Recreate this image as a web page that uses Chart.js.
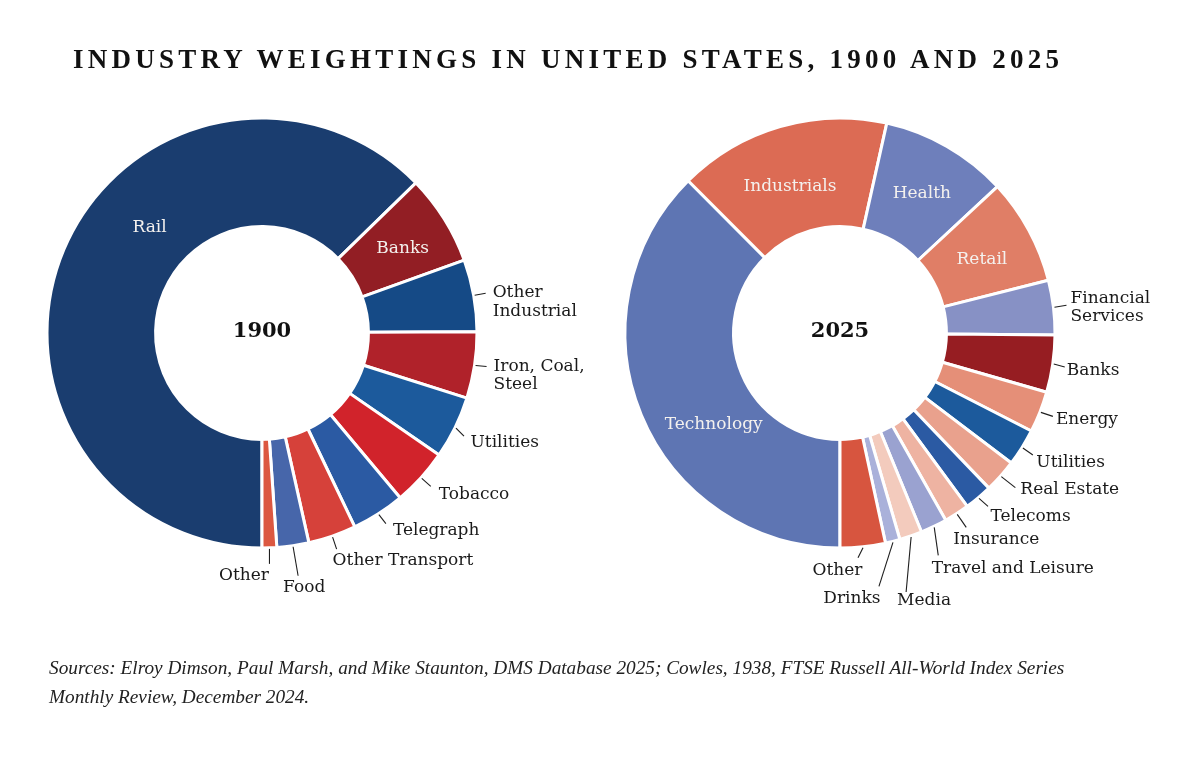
<!DOCTYPE html>
<html>
<head>
<meta charset="utf-8">
<script src="https://cdn.jsdelivr.net/npm/chart.js@4"></script>
<style>
  html, body { margin: 0; padding: 0; background: #fff; }
  #wrap { position: relative; width: 1200px; height: 757px; overflow: hidden; }
  canvas { position: absolute; left: 0; top: 0; }
  #title {
    position: absolute; left: 73px; top: 46px;
    font: bold 27px "Liberation Serif", serif; line-height: 27px;
    white-space: nowrap; color: #111;
  }
  #source {
    position: absolute; left: 49px; top: 654px;
    font-family: "Liberation Serif", serif; font-style: italic;
    line-height: 28.5px; white-space: nowrap; color: #222;
  }
</style>
</head>
<body>
<div id="wrap">
  <canvas id="chart1900" width="1200" height="757"></canvas>
  <canvas id="chart2025" width="1200" height="757"></canvas>
  <div id="title">INDUSTRY WEIGHTINGS IN UNITED STATES, 1900 AND 2025</div>
  <div id="source"><span id="src1">Sources: Elroy Dimson, Paul Marsh, and Mike Staunton, DMS Database 2025; Cowles, 1938, FTSE Russell All-World Index Series</span><br>Monthly Review, December 2024.</div>
</div>
<script>
// 1900 weights (%)
const labels1900 = ['Rail', 'Banks', 'Other Industrial', 'Iron, Coal, Steel', 'Utilities', 'Tobacco', 'Telegraph', 'Other Transport', 'Food', 'Other'];
const values1900 = [62.7, 6.8, 5.4, 5.0, 4.7, 4.3, 4.0, 3.6, 2.4, 1.1];
const colors1900 = ['#1a3d6f', '#921e24', '#154a86', '#b0222a', '#1c5a9c', '#d1232b', '#2b5aa3', '#d6413a', '#4766aa', '#dc5841'];

// 2025 weights (%)
const labels2025 = ['Technology', 'Industrials', 'Health', 'Retail', 'Financial Services', 'Banks', 'Energy', 'Utilities', 'Real Estate', 'Telecoms', 'Insurance', 'Travel and Leisure', 'Media', 'Drinks', 'Other'];
const values2025 = [37.6, 16.0, 9.6, 8.0, 4.1, 4.3, 3.1, 2.8, 2.5, 2.1, 1.9, 2.0, 1.7, 1.1, 3.4];
const colors2025 = ['#5e75b3', '#dc6b54', '#6e7fbb', '#e07e66', '#8791c5', '#961d22', '#e58f78', '#1c5a9c', '#e9a18d', '#2b5aa3', '#eeb3a2', '#9aa2d0', '#f3cbbd', '#aab1da', '#d7553f'];

// label placement: inside = [fraction along arc, fraction across ring]
// outside: leader = end offset from ring edge, text = offset from leader end
const place1900 = {
    'Rail': { inside: [0.592, 0.45] },
    'Banks': { inside: [0.52, 0.54] },
    'Other Industrial': { lines: ['Other', 'Industrial'], leader: [11, -2], text: [7, 4.3] },
    'Iron, Coal, Steel': { lines: ['Iron, Coal,', 'Steel'], leader: [11, 1], text: [7, 4.3] },
    'Utilities': { leader: [8, 8], text: [6.5, 11] },
    'Tobacco': { leader: [9, 8], text: [8, 12.5] },
    'Telegraph': { leader: [7, 9], text: [7, 11.5] },
    'Other Transport': { leader: [4, 12], text: [-4, 16] },
    'Food': { leader: [5, 29], text: [-15, 16] },
    'Other': { leader: [0, 15], text: [-0.5, 16], align: 'right' }
};

const place2025 = {
    'Technology': { inside: [0.403, 0.45] },
    'Industrials': { inside: [0.457, 0.46] },
    'Health': { inside: [0.51, 0.52] },
    'Retail': { inside: [0.52, 0.50] },
    'Financial Services': { lines: ['Financial', 'Services'], leader: [12, -2], text: [4, -2.3] },
    'Banks': { leader: [11, 3], text: [2, 8] },
    'Energy': { leader: [12, 4], text: [3, 7.5] },
    'Utilities': { leader: [10, 7], text: [3.5, 12] },
    'Real Estate': { leader: [14, 11], text: [5, 6.5] },
    'Telecoms': { leader: [9, 8], text: [2.5, 14.5] },
    'Insurance': { leader: [9, 13], text: [-13, 16.5] },
    'Travel and Leisure': { leader: [4, 28], text: [-6.5, 17.5] },
    'Media': { leader: [-5, 55], text: [-9, 13] },
    'Drinks': { leader: [-14, 44], text: [1.5, 17], align: 'right' },
    'Other': { leader: [-5, 10], text: [4.5, 17], align: 'right' }
};

// Draws slice labels, leader lines and the year in the hole
const sliceLabels = {
    id: 'sliceLabels',
    afterDatasetsDraw(chart, args, opts) {
        const ctx = chart.ctx;
        const meta = chart.getDatasetMeta(0);
        let cx = 0, cy = 0;
        ctx.save();
        ctx.font = '17px "DejaVu Serif"';
        ctx.textBaseline = 'alphabetic';
        meta.data.forEach((arc, i) => {
            const p = arc.getProps(['x', 'y', 'startAngle', 'endAngle', 'innerRadius', 'outerRadius'], true);
            cx = p.x; cy = p.y;
            const name = chart.data.labels[i];
            const cfg = opts.place[name];
            if (!cfg) return;
            if (cfg.inside) {
                const a = p.startAngle + cfg.inside[0] * (p.endAngle - p.startAngle);
                const r = p.innerRadius + cfg.inside[1] * (p.outerRadius - p.innerRadius);
                ctx.fillStyle = '#f4f1ee';
                ctx.textAlign = 'center';
                ctx.fillText(name, p.x + Math.cos(a) * r, p.y + Math.sin(a) * r + 6);
                return;
            }
            const mid = (p.startAngle + p.endAngle) / 2;
            const sx = p.x + Math.cos(mid) * (p.outerRadius + 1);
            const sy = p.y + Math.sin(mid) * (p.outerRadius + 1);
            const ex = sx + cfg.leader[0];
            const ey = sy + cfg.leader[1];
            ctx.strokeStyle = '#1e1e1e';
            ctx.lineWidth = 1.1;
            ctx.beginPath();
            ctx.moveTo(sx, sy);
            ctx.lineTo(ex, ey);
            ctx.stroke();
            ctx.fillStyle = '#1a1a1a';
            ctx.textAlign = cfg.align || 'left';
            const lines = cfg.lines || [name];
            lines.forEach((ln, k) => {
                ctx.fillText(ln, ex + cfg.text[0], ey + cfg.text[1] + k * 18.3);
            });
        });
        ctx.font = 'bold 21px "DejaVu Serif"';
        ctx.textAlign = 'center';
        ctx.fillStyle = '#111';
        ctx.fillText(opts.center, cx, cy + 4);
        ctx.restore();
    }
};

function makeDoughnut(id, labels, values, colors, place, center, padding) {
    return new Chart(document.getElementById(id), {
        type: 'doughnut',
        data: {
            labels: labels,
            datasets: [{
                data: values,
                backgroundColor: colors,
                borderColor: '#ffffff',
                borderWidth: 3,
                hoverOffset: 0
            }]
        },
        options: {
            responsive: false,
            animation: false,
            rotation: 180,
            radius: 215,
            cutout: '49.5%',
            events: [],
            layout: { padding: padding },
            plugins: {
                legend: { display: false },
                tooltip: { enabled: false },
                sliceLabels: { place: place, center: center }
            }
        },
        plugins: [sliceLabels]
    });
}

makeDoughnut('chart1900', labels1900, values1900, colors1900, place1900, '1900', { left: 0, right: 676, top: 0, bottom: 91 });
makeDoughnut('chart2025', labels2025, values2025, colors2025, place2025, '2025', { left: 480, right: 0, top: 0, bottom: 91 });

// Fit the title tracking and the source size to the reference widths
const m = document.createElement('canvas').getContext('2d');
const titleEl = document.getElementById('title');
m.font = 'bold 27px "Liberation Serif"';
const tText = titleEl.textContent;
const tw = m.measureText(tText).width;
titleEl.style.letterSpacing = ((989 - tw) / (tText.length - 1)) + 'px';

m.font = 'italic 20px "Liberation Serif"';
const sw = m.measureText(document.getElementById('src1').textContent).width;
document.getElementById('source').style.fontSize = (20 * 1016 / sw) + 'px';
</script>
</body>
</html>
